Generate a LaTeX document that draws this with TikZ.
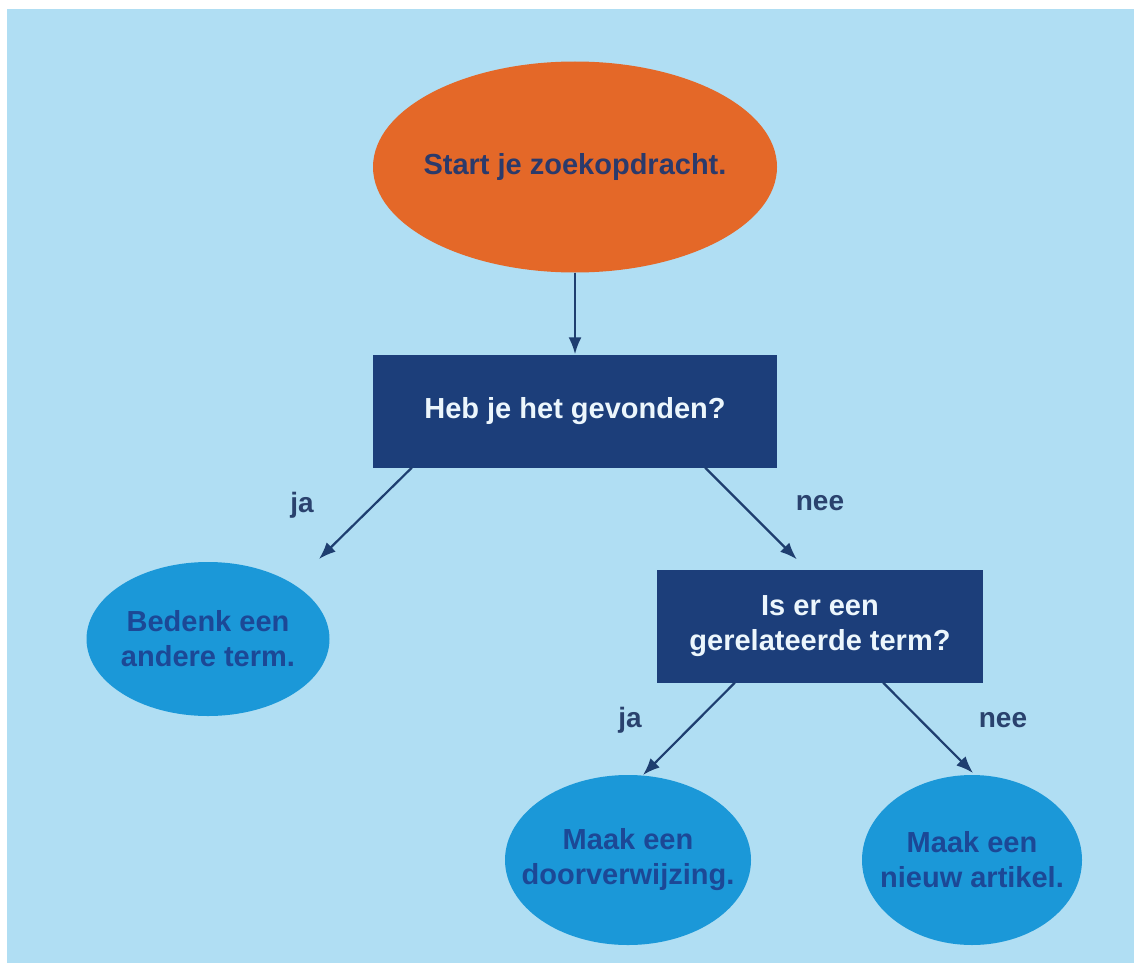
\documentclass[tikz,border=0pt]{standalone}
\usepackage{fontspec}
\setmainfont{Liberation Sans}
\usetikzlibrary{shapes.geometric,arrows.meta}
\definecolor{bgblue}{RGB}{176,222,243}
\definecolor{startorange}{RGB}{228,104,40}
\definecolor{navybox}{RGB}{28,62,122}
\definecolor{ellblue}{RGB}{27,152,216}
\definecolor{elltext}{RGB}{28,72,150}
\definecolor{starttext}{RGB}{43,58,107}
\definecolor{boxtext}{RGB}{236,246,252}
\definecolor{arrowcol}{RGB}{30,62,112}
\definecolor{labelcol}{RGB}{42,66,110}
\tikzset{
  txt/.style={font=\bfseries\fontsize{29}{35}\selectfont, align=center, inner sep=0pt},
  ellnode/.style={txt, ellipse, inner xsep=-60pt, inner ysep=-30pt},
  startnode/.style={ellnode, fill=startorange, text=starttext, minimum width=404pt, minimum height=211pt},
  boxnode/.style={txt, rectangle, fill=navybox, text=boxtext},
  endnode/.style={ellnode, fill=ellblue, text=elltext},
  lbl/.style={font=\bfseries\fontsize{28}{34}\selectfont, text=labelcol, inner sep=0pt},
  arr/.style={draw=arrowcol, line width=2.2pt, -{Latex[length=17pt,width=13pt]}}
}
\begin{document}
\begin{tikzpicture}[x=1pt,y=-1pt]
\useasboundingbox (0,0) rectangle (1134,963);
\fill[white] (0,0) rectangle (1134,963);
\fill[bgblue] (7,9) rectangle (1134,963);

\node[startnode] (start) at (575,167) {Start je zoekopdracht.};
\node[boxnode, minimum width=404pt, minimum height=113pt] (q1) at (575,411) {Heb je het gevonden?};
\node[endnode, minimum width=243pt, minimum height=154pt] (b) at (208,639) {Bedenk een\\andere term.};
\node[boxnode, minimum width=326pt, minimum height=113pt] (q2) at (820,626) {Is er een\\gerelateerde term?};
\node[endnode, minimum width=246pt, minimum height=170pt] (c) at (628,860) {Maak een\\doorverwijzing.};
\node[endnode, minimum width=220pt, minimum height=170pt] (d) at (972,860) {Maak een\\nieuw artikel.};

\node[lbl] (ja1) at (302,505) {ja};
\node[lbl] (nee1) at (820,503) {nee};
\node[lbl] (ja2) at (630,720) {ja};
\node[lbl] (nee2) at (1003,720) {nee};

\draw[arr] (start.south) -- (q1.north);
\draw[arr] ([xshift=39pt]q1.south west) -- ([xshift=111pt,yshift=80pt]b.center);
\draw[arr] ([xshift=-72pt]q1.south east) -- ([xshift=140pt,yshift=10pt]q2.north west);
\draw[arr] ([xshift=78pt]q2.south west) -- ([xshift=15pt,yshift=85pt]c.center);
\draw[arr] ([xshift=-100pt]q2.south east) -- ([xshift=1pt,yshift=87pt]d.center);
\end{tikzpicture}
\end{document}
